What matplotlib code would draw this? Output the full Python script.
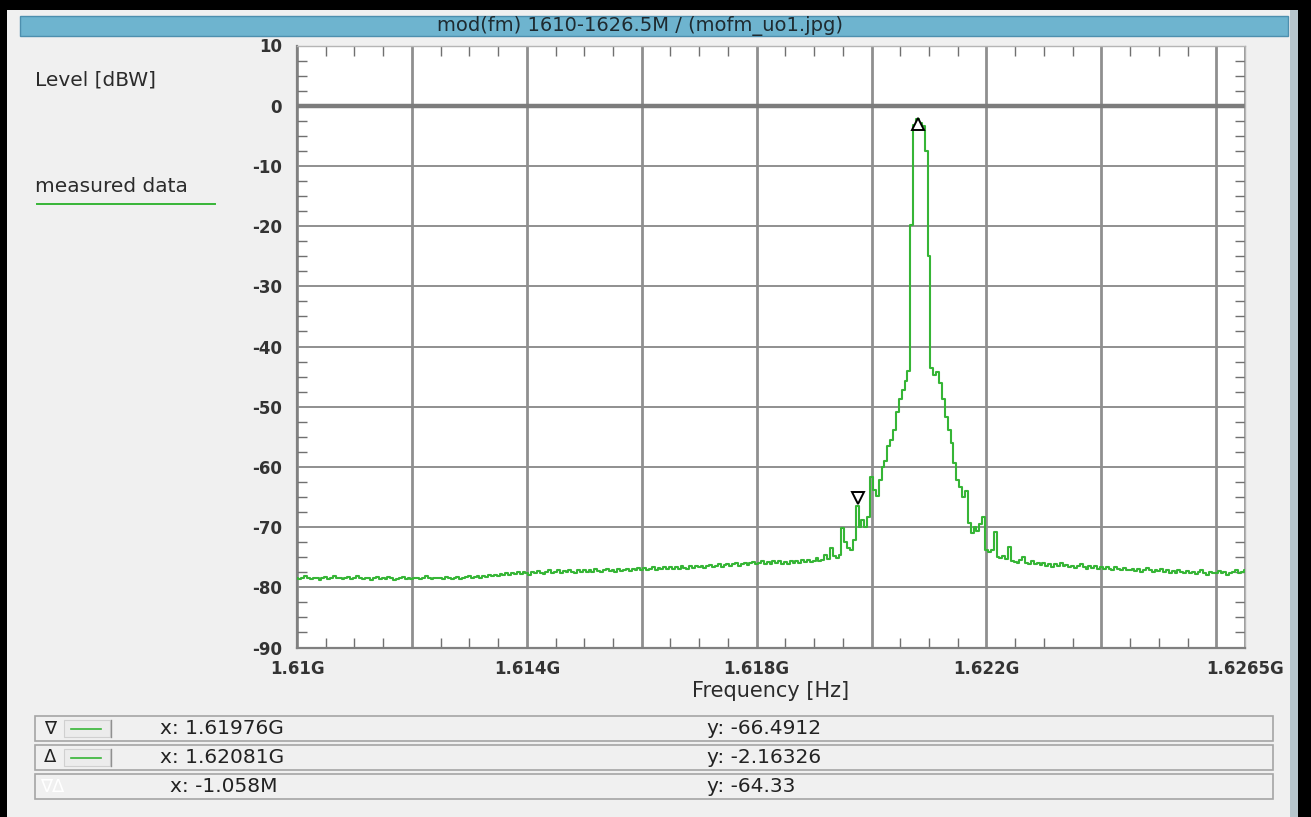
import numpy as np
import matplotlib
matplotlib.use("Agg")
import matplotlib.pyplot as plt
from matplotlib.patches import Rectangle
from matplotlib.lines import Line2D
from matplotlib.ticker import MultipleLocator
import matplotlib.transforms as mtransforms

# ---- data (frequency in MHz, level in dBW), sampled every 0.05 MHz ----
f_start = 1610.0
f_step = 0.05
level_db = [
    -78.4, -78.7, -78.5, -78.2, -78.5, -78.7, -78.4, -78.5, -78.8, -78.5,
    -78.3, -78.7, -78.5, -78.2, -78.5, -78.4, -78.7, -78.5, -78.3, -78.6,
    -78.5, -78.2, -78.5, -78.7, -78.4, -78.5, -78.8, -78.5, -78.3, -78.6,
    -78.5, -78.7, -78.3, -78.5, -78.8, -78.6, -78.5, -78.3, -78.6, -78.5,
    -78.7, -78.4, -78.5, -78.7, -78.5, -78.2, -78.5, -78.7, -78.4, -78.5,
    -78.5, -78.7, -78.3, -78.5, -78.7, -78.5, -78.3, -78.6, -78.5, -78.3,
    -78.2, -78.5, -78.3, -78.2, -78.4, -78.1, -78.3, -78.0, -78.2, -77.9,
    -78.1, -77.8, -78.0, -77.7, -77.9, -77.6, -77.8, -77.5, -77.8, -77.4,
    -77.6, -77.9, -77.4, -77.7, -77.3, -77.6, -77.8, -77.4, -77.2, -77.6,
    -77.5, -77.2, -77.7, -77.3, -77.5, -77.1, -77.4, -77.6, -77.2, -77.4,
    -77.1, -77.5, -77.2, -77.4, -77.0, -77.3, -77.5, -77.1, -76.9, -77.3,
    -77.1, -77.4, -77.0, -77.3, -77.1, -76.9, -77.3, -77.0, -77.2, -76.8,
    -77.1, -76.8, -77.2, -76.9, -76.7, -77.1, -76.8, -77.0, -76.7, -77.0,
    -76.7, -77.0, -76.6, -76.9, -76.5, -76.8, -76.9, -76.5, -76.8, -76.4,
    -76.7, -76.4, -76.8, -76.5, -76.3, -76.7, -76.4, -76.2, -76.6, -76.3,
    -76.1, -76.5, -76.2, -76.0, -76.4, -76.1, -75.9, -76.3, -76.0, -75.8,
    -76.2, -75.9, -75.7, -76.1, -75.8, -76.2, -75.6, -76.0, -75.7, -76.1,
    -75.8, -76.1, -75.7, -76.0, -75.6, -75.9, -75.5, -75.8, -75.4, -75.8,
    -75.6, -75.2, -75.7, -75.4, -74.6, -75.3, -73.4, -74.8, -75.2, -74.6,
    -70.2, -72.4, -73.5, -73.8, -72.2, -66.5, -70.0, -68.8, -70.0, -68.3,
    -61.6, -63.8, -64.9, -62.1, -60.0, -59.1, -56.6, -55.5, -53.8, -50.8,
    -48.8, -47.2, -45.8, -44.0, -19.8, -3.2, -2.2, -2.8, -3.3, -7.6,
    -25.0, -43.6, -44.8, -44.2, -46.0, -48.8, -51.7, -53.8, -56.0, -59.3,
    -62.1, -63.3, -65.0, -64.0, -69.3, -71.0, -70.0, -70.6, -69.5, -68.3,
    -73.8, -74.2, -73.8, -70.8, -74.9, -75.2, -74.8, -75.3, -73.3, -75.6,
    -75.8, -76.0, -75.4, -74.9, -75.9, -76.1, -75.7, -76.2, -75.9, -76.3,
    -76.0, -76.5, -76.1, -76.6, -76.2, -76.4, -75.9, -76.5, -76.3, -76.7,
    -76.4, -76.8, -76.5, -76.2, -76.6, -76.9, -76.5, -76.8, -76.4, -76.9,
    -76.6, -77.0, -76.7, -76.9, -77.1, -76.6, -76.9, -77.2, -76.8, -77.1,
    -77.2, -76.9, -77.3, -77.0, -77.4, -77.1, -76.8, -77.2, -77.5, -77.1,
    -77.3, -76.9, -77.4, -77.2, -77.6, -77.3, -77.7, -77.2, -77.4, -77.6,
    -77.3, -77.7, -77.4, -77.8, -77.5, -77.2, -77.6, -77.9, -77.5, -77.7,
    -77.6, -77.3, -77.7, -77.5, -77.9, -77.6, -77.5, -77.2, -77.6, -77.4,
    -77.2,
]
freq_mhz = f_start + f_step * np.arange(len(level_db))

# markers
m1_freq, m1_level = 1619.76, -66.4912
m2_freq, m2_level = 1620.81, -2.16326
marker_rows = [
    ("\u2207", "x: 1.61976G", "y: -66.4912"),
    ("\u0394", "x: 1.62081G", "y: -2.16326"),
    ("\u2207\u0394", "x: -1.058M", "y: -64.33"),
]

xtick_pos = [1610, 1612, 1614, 1616, 1618, 1620, 1622, 1624, 1626, 1626.5]
xtick_lab = ["1.61G", "", "1.614G", "", "1.618G", "", "1.622G", "", "", "1.6265G"]
ytick_pos = [10, 0, -10, -20, -30, -40, -50, -60, -70, -80, -90]

title = "mod(fm) 1610-1626.5M / (mofm_uo1.jpg)"

W, H = 1311, 817
GREEN = "#36b536"
TXT = "#2b2b2b"
plt.rcParams["font.family"] = ["DejaVu Sans"]

fig = plt.figure(figsize=(W / 100, H / 100), dpi=100, facecolor="black")


def fx(x):
    return x / W


def fy(y):
    return 1 - y / H


def frect(x0, y0, x1, y1, z=-5, **kw):
    r = Rectangle((fx(x0), fy(y1)), fx(x1) - fx(x0), fy(y0) - fy(y1),
                  transform=fig.transFigure, zorder=z, **kw)
    fig.patches.append(r)
    return r


# window panel, side bar, title bar
frect(7, 10, 1290, 817, z=-10, facecolor="#f0f0f0", edgecolor="none")
frect(1290, 10, 1298, 817, z=-10, facecolor="#b7c6cd", edgecolor="none")
frect(20, 16, 1288, 36, facecolor="#6eb4cf", edgecolor="#4d8fae", lw=1)
fig.text(fx(640), fy(26), title, ha="center", va="center", fontsize=14, color="#1e2a30")

# left labels
fig.text(fx(35), fy(80), "Level [dBW]", ha="left", va="center", fontsize=14.5, color=TXT)
fig.text(fx(35), fy(187), "measured data", ha="left", va="center", fontsize=14.5, color=TXT)
fig.lines.append(Line2D([fx(37), fx(215)], [fy(204), fy(204)], transform=fig.transFigure,
                        color=GREEN, lw=1.4))

# main axes
ax = fig.add_axes([fx(297), fy(647.5), fx(1245) - fx(297), fy(45.5) - fy(647.5)])
ax.set_facecolor("white")
ax.plot(freq_mhz, level_db, color=GREEN, lw=1.5, drawstyle="steps-mid", zorder=3)
ax.axhline(0, color="#7c7c7c", lw=3.2, zorder=2)

ax.set_xlim(1610, 1626.5)
ax.set_ylim(-90, 10)
ax.set_xticks(xtick_pos)
ax.set_xticklabels(xtick_lab)
ax.set_yticks(ytick_pos)
ax.set_yticklabels([str(v) for v in ytick_pos])
ax.xaxis.set_minor_locator(MultipleLocator(0.5))
ax.yaxis.set_minor_locator(MultipleLocator(2.5))
ax.grid(True, which="major", axis="x", color="#8f8f8f", lw=2)
ax.grid(True, which="major", axis="y", color="#8f8f8f", lw=1.4)
ax.set_axisbelow(True)
ax.tick_params(which="major", length=0, labelsize=12, labelcolor="#333333")
ax.tick_params(axis="y", which="major", pad=11)
ax.tick_params(axis="x", which="major", pad=9)
ax.tick_params(which="minor", direction="in", length=7, width=1, color="#707070",
               top=True, bottom=True, left=True, right=True)
for lab in ax.get_xticklabels() + ax.get_yticklabels():
    lab.set_fontweight("bold")
for side in ["left", "bottom"]:
    ax.spines[side].set_color("#808080")
    ax.spines[side].set_linewidth(1.6)
for side in ["top", "right"]:
    ax.spines[side].set_color("#b5b5b5")
    ax.spines[side].set_linewidth(1)

# marker symbols on the trace
up_off = mtransforms.offset_copy(ax.transData, fig=fig, x=0, y=6, units="points")
dn_off = mtransforms.offset_copy(ax.transData, fig=fig, x=0, y=-4, units="points")
ax.plot([m1_freq], [m1_level], marker="v", ms=9, mfc="white", mec="black", mew=1.4,
        transform=up_off, zorder=5, clip_on=False)
ax.plot([m2_freq], [m2_level], marker="^", ms=9, mfc="white", mec="black", mew=1.4,
        transform=dn_off, zorder=5, clip_on=False)

fig.text(fx(771), fy(691), "Frequency [Hz]", ha="center", va="center", fontsize=15, color=TXT)

# marker table
row_tops = [716, 745, 774]
for i, (sym, xs, ys) in enumerate(marker_rows):
    y0 = row_tops[i]
    y1 = y0 + 25
    yc = (y0 + y1) / 2
    frect(35, y0, 1273, y1, facecolor="#f0f0f0", edgecolor="#a5a5a5", lw=1.2)
    if i < 2:
        fig.text(fx(50), fy(yc), sym, ha="center", va="center", fontsize=13, color="#222222")
        frect(64, y0 + 4, 110, y1 - 4, z=-4, facecolor="#ececec", edgecolor="#d0d0d0", lw=0.8)
        fig.lines.append(Line2D([fx(71), fx(101)], [fy(yc), fy(yc)], transform=fig.transFigure,
                                color=GREEN, lw=1.2))
        fig.lines.append(Line2D([fx(111), fx(111)], [fy(y0 + 4), fy(y1 - 4)],
                                transform=fig.transFigure, color="#909090", lw=1))
        fig.text(fx(160), fy(yc), xs, ha="left", va="center", fontsize=14.5, color="#222222")
    else:
        fig.text(fx(40), fy(yc), sym, ha="left", va="center", fontsize=13, color="#ffffff")
        fig.text(fx(170), fy(yc), xs, ha="left", va="center", fontsize=14.5, color="#222222")
    fig.text(fx(707), fy(yc), ys, ha="left", va="center", fontsize=14.5, color="#222222")

fig.savefig("out.png", dpi=100, facecolor=fig.get_facecolor())
